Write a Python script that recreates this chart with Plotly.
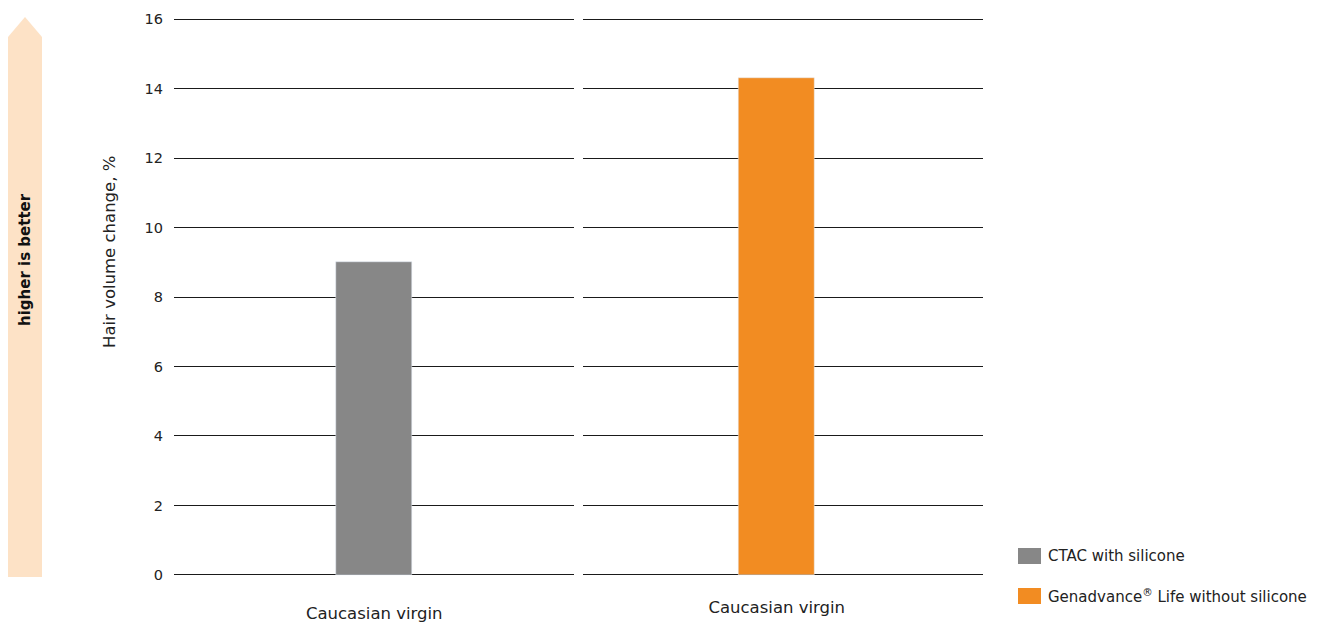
import plotly.graph_objects as go
from plotly.subplots import make_subplots

categories = ["Caucasian virgin"]
series_names = ["CTAC with silicone", "Genadvance<sup>®</sup> Life without silicone"]
values_ctac = [9.0]
values_gen = [14.3]
y_ticks = [0, 2, 4, 6, 8, 10, 12, 14, 16]
y_title = "Hair volume change, %"
colors = ["#878787", "#F28C22"]

FONT = "DejaVu Sans"

fig = make_subplots(rows=1, cols=2, shared_yaxes=True, horizontal_spacing=0.0099)

fig.add_trace(go.Bar(x=categories, y=values_ctac, name=series_names[0], marker_color=colors[0],
                     width=0.19, showlegend=False), row=1, col=1)
fig.add_trace(go.Bar(x=categories, y=values_gen, name=series_names[1], marker_color=colors[1],
                     width=0.19, showlegend=False), row=1, col=2)

W, H = 1326, 623
L, R, T, B = 174, 343, 18, 47
pw, ph = W - L - R, H - T - B

def px(x):
    return (x - L) / pw

def py(y):
    return (H - B - y) / ph

for ax in ["xaxis", "xaxis2"]:
    fig.layout[ax].update(showgrid=False, showline=False, zeroline=False, ticks="",
                          tickfont=dict(family=FONT, size=16.5, color="#222"),
                          range=[-0.5, 0.5], fixedrange=True, automargin=False)
fig.layout.xaxis.ticklabelstandoff = 25
fig.layout.xaxis2.ticklabelstandoff = 19
fig.layout.xaxis2.range = [-0.485, 0.515]

fig.update_yaxes(range=[-0.03, 16.03], tickvals=y_ticks, showgrid=True, gridcolor="#1a1a1a", gridwidth=1.4,
                 zeroline=False, showline=False, ticks="", automargin=False,
                 tickfont=dict(family=FONT, size=14.5, color="#222"))
fig.layout.yaxis.ticklabelstandoff = 10

# y-axis title (placed above centre as in the reference)
fig.add_annotation(text=y_title, xref="paper", yref="paper", x=px(110), y=py(252),
                   xanchor="center", yanchor="middle",
                   textangle=-90, showarrow=False,
                   font=dict(family=FONT, size=16.5, color="#222"))

# "higher is better" arrow
x0, x1, xm = px(8), px(42), px(25)
path = (f"M {x0} {py(577)} L {x1} {py(577)} L {x1} {py(37)} L {xm} {py(17)} "
        f"L {x0} {py(37)} Z")
fig.add_shape(type="path", path=path, xref="paper", yref="paper",
              fillcolor="#FDE2C6", line=dict(width=0), layer="below")
fig.add_annotation(text="<b>higher is better</b>", xref="paper", yref="paper",
                   x=xm, y=py(260), xanchor="center", yanchor="middle",
                   textangle=-90, showarrow=False,
                   font=dict(family=FONT, size=15, color="#111"))

# manual legend
leg_y = [556, 596]
for name, col, yc in zip(series_names, colors, leg_y):
    fig.add_shape(type="rect", xref="paper", yref="paper",
                  x0=px(1018), x1=px(1041), y0=py(yc + 8), y1=py(yc - 8),
                  fillcolor=col, line=dict(width=0))
    fig.add_annotation(text=name, xref="paper", yref="paper", x=px(1046), y=py(yc),
                       xanchor="left", yanchor="middle", showarrow=False,
                       font=dict(family=FONT, size=15, color="#222"))

fig.update_layout(
    width=W, height=H,
    margin=dict(l=L, r=R, t=T, b=B, autoexpand=False),
    plot_bgcolor="white", paper_bgcolor="white",
    showlegend=False,
    bargap=0,
)

fig.write_html("out.html", config={"displayModeBar": False},
               post_script="document.body.style.margin='0';document.body.style.overflow='hidden';")
